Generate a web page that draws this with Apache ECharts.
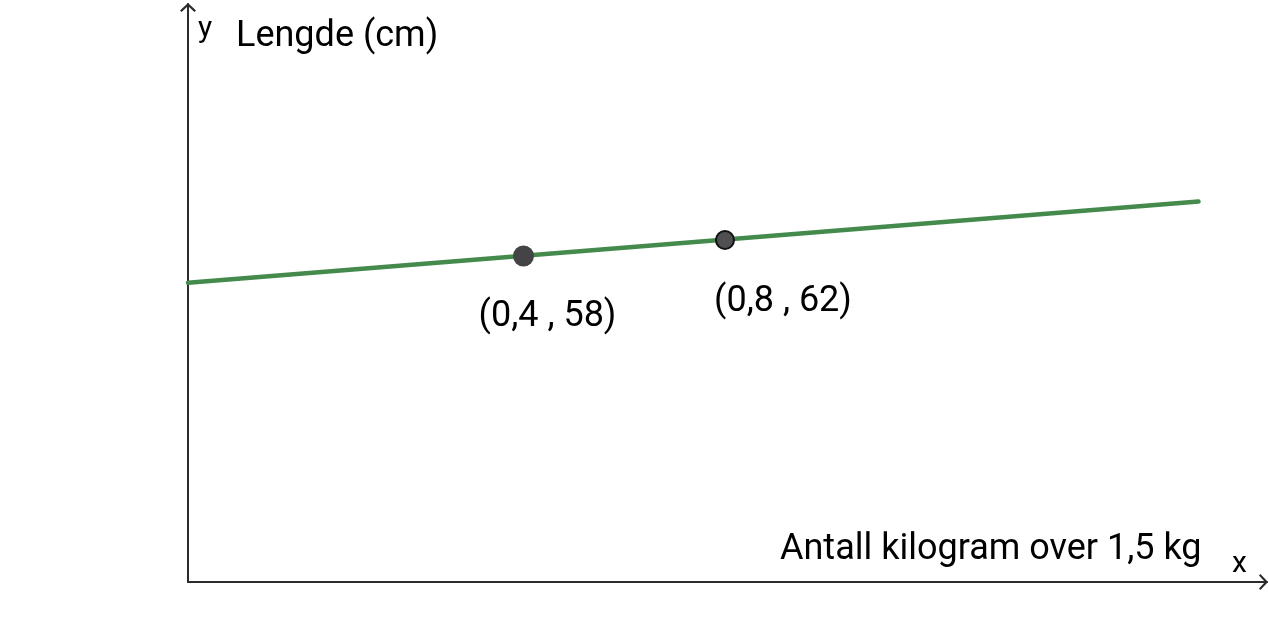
<!DOCTYPE html>
<html>
<head>
<meta charset="utf-8">
<script src="https://cdn.jsdelivr.net/npm/echarts@6/dist/echarts.min.js"></script>
<style>
html,body{margin:0;padding:0;background:#fff;}
#chart{width:1269px;height:624px;}
</style>
</head>
<body>
<div id="chart"></div>
<script>
// Axis extents (data units)
const xRange = [-0.266, 1.876];
const yRange = [-23.5, 121];
// Marked points
const pointX = [0.4, 0.8];
const pointY = [58, 62];
const pointLabels = ['(0,4 , 58)', '(0,8 , 62)'];
// Straight line endpoints
const lineX = [-0.266, 1.74];
const lineY = [51.3, 71.6];
// Texts
const axisLetters = ['x', 'y'];
const yTitle = 'Lengde (cm)';
const xTitle = 'Antall kilogram over 1,5 kg';

const FONT = 'Roboto, "Noto Sans", sans-serif';
const arrowPath = 'path://M0,7.6 L8,0 L16,7.6 L14.4,9 L8,3 L1.6,9 Z';
const axisColor = '#2b2b2b';

const chart = echarts.init(document.getElementById('chart'), null, {renderer: 'canvas'});

const pointStyles = [
  {symbolSize: 21, itemStyle: {color: '#444447', borderWidth: 0, opacity: 1}, label: {offset: [24, 61]}},
  {symbolSize: 18, itemStyle: {color: '#505053', borderColor: '#111', borderWidth: 2, opacity: 1}, label: {offset: [58, 62]}}
];

const option = {
  animation: false,
  backgroundColor: '#fff',
  grid: {left: 188, right: 2, top: 4, bottom: 42, containLabel: false},
  xAxis: {
    type: 'value', min: xRange[0], max: xRange[1],
    axisLine: {show: true, onZero: false, lineStyle: {color: axisColor, width: 2},
      symbol: ['none', arrowPath], symbolSize: [16, 9], symbolOffset: [0, -3.5]},
    axisTick: {show: false}, axisLabel: {show: false}, splitLine: {show: false}
  },
  yAxis: {
    type: 'value', min: yRange[0], max: yRange[1],
    axisLine: {show: true, onZero: false, lineStyle: {color: axisColor, width: 2},
      symbol: ['none', arrowPath], symbolSize: [16, 9], symbolOffset: [0, -3.5]},
    axisTick: {show: false}, axisLabel: {show: false}, splitLine: {show: false}
  },
  series: [
    {
      type: 'line',
      data: lineX.map((x, i) => [x, lineY[i]]),
      showSymbol: false,
      clip: false,
      lineStyle: {color: '#448a4c', width: 4.5, cap: 'round'},
      z: 2
    },
    {
      type: 'scatter',
      data: pointX.map((x, i) => Object.assign({value: [x, pointY[i]], name: pointLabels[i]}, pointStyles[i])),
      symbol: 'circle',
      itemStyle: {opacity: 1},
      label: {
        show: true, position: 'inside',
        formatter: p => p.name,
        color: '#000', opacity: 1, fontFamily: FONT, fontSize: 36
      },
      z: 5
    }
  ],
  graphic: [
    {type: 'text', x: 198, y: 29, style: {text: axisLetters[1], font: '30px ' + FONT, fill: '#000', verticalAlign: 'middle'}},
    {type: 'text', x: 236, y: 37, style: {text: yTitle, font: '36px ' + FONT, fill: '#000', verticalAlign: 'middle'}},
    {type: 'text', x: 1232, y: 564, style: {text: axisLetters[0], font: '30px ' + FONT, fill: '#000', verticalAlign: 'middle'}},
    {type: 'text', x: 780, y: 550, style: {text: xTitle, font: '36px ' + FONT, fill: '#000', verticalAlign: 'middle'}}
  ]
};
chart.setOption(option);
</script>
</body>
</html>
